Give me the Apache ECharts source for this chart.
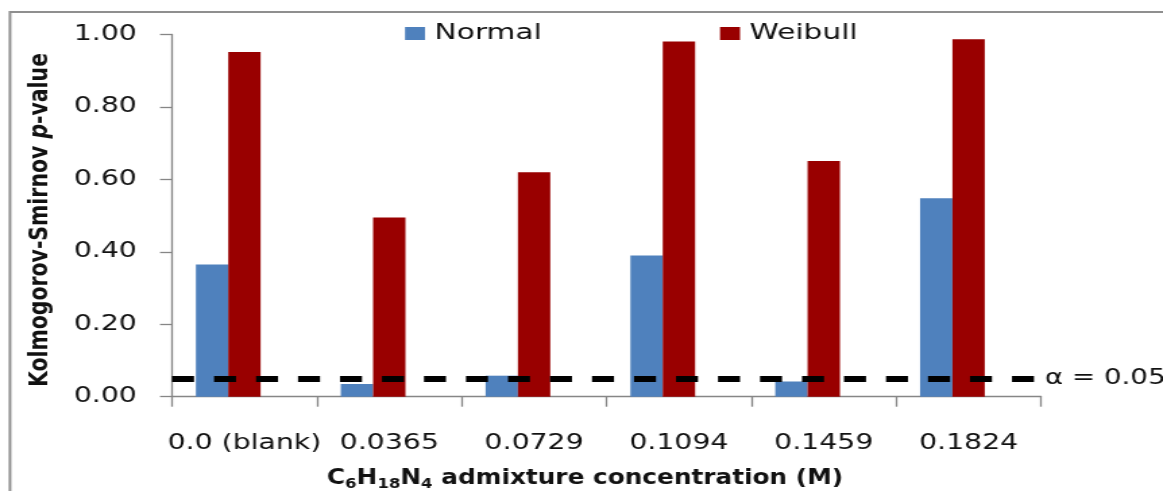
<!DOCTYPE html>
<html><head><meta charset="utf-8">
<script src="https://cdn.jsdelivr.net/npm/echarts@6/dist/echarts.min.js"></script>
<style>
html,body{margin:0;padding:0;background:#fff;overflow:hidden;}
#wrap{width:1163px;height:491px;overflow:hidden;position:relative;background:#fff;}
#chart{width:862px;height:491px;transform:scaleX(1.349188);transform-origin:0 0;}
</style></head><body><div id="wrap"><div id="chart"></div></div>
<script>
// ---- data ----
const categories = ['0.0 (blank)', '0.0365', '0.0729', '0.1094', '0.1459', '0.1824'];
const normalValues = [0.365, 0.035, 0.058, 0.390, 0.042, 0.548];
const weibullValues = [0.952, 0.495, 0.620, 0.981, 0.651, 0.987];
const alphaLevel = 0.05;
const alphaLabel = 'α = 0.05';
const yMin = 0, yMax = 1, yStep = 0.2;
const xTitleParts = [['C', 0], ['6', 1], ['H', 0], ['18', 1], ['N', 0], ['4', 1], [' admixture concentration (M)', 0]];
const yTitleParts = [['Kolmogorov-Smirnov ', 0], ['p', 1], ['-value', 0]];

// ---- layout ----
const S = 1163 / 862;               // horizontal stretch of the picture
const ix = v => v / S;              // picture x -> inner x
const FONT = '"DejaVu Sans", Verdana, sans-serif';
const cv = document.createElement('canvas').getContext('2d');
function w(t, f) { cv.font = f; return cv.measureText(t).width; }

// x axis title (bold with subscripts)
const xMain = 'bold 21px ' + FONT, xSub = 'bold 14px ' + FONT;
let cx = 0; const xKids = [];
xTitleParts.forEach(([t, sub]) => {
  const f = sub ? xSub : xMain;
  xKids.push({ type: 'text', x: cx, y: sub ? 6 : 0,
    style: { text: t, font: f, fill: '#111', align: 'left', verticalAlign: 'middle', textAlign: 'left', textVerticalAlign: 'middle' } });
  cx += w(t, f);
});
const xScale = (ix(843) - ix(327)) / cx;

// y axis title (rotated, italic p)
const yMainF = 'bold 20px ' + FONT, yItF = 'italic bold 20px ' + FONT;
let tot = 0; yTitleParts.forEach(([t, it]) => tot += w(t, it ? yItF : yMainF));
let cy = -tot / 2; const yKids = [];
yTitleParts.forEach(([t, it]) => {
  const f = it ? yItF : yMainF;
  yKids.push({ type: 'text', x: cy, y: 0,
    style: { text: t, font: f, fill: '#111', align: 'left', verticalAlign: 'middle', textAlign: 'left', textVerticalAlign: 'middle' } });
  cy += w(t, f);
});
const yScale = 334 / tot;

const chart = echarts.init(document.getElementById('chart'), null, { renderer: 'canvas' });
const axisGray = '#868686';
chart.setOption({
  animation: false,
  backgroundColor: '#fff',
  grid: { left: ix(172), right: 862 - ix(1041), top: 34.5, bottom: 94.3, containLabel: false },
  legend: [
    { data: ['Normal'], left: ix(405), top: 22.5, padding: 0, icon: 'rect', itemWidth: ix(20), itemHeight: 13,
      textStyle: { fontSize: 22, fontFamily: FONT, color: '#111', padding: [0, 0, 0, 2] } },
    { data: ['Weibull'], left: ix(720), top: 22.5, padding: 0, icon: 'rect', itemWidth: ix(20), itemHeight: 13,
      textStyle: { fontSize: 22, fontFamily: FONT, color: '#111', padding: [0, 0, 0, 2] } }
  ],
  xAxis: {
    type: 'category', data: categories,
    axisLine: { lineStyle: { color: axisGray, width: 1.3 } },
    axisTick: { show: true, length: 10, lineStyle: { color: axisGray, width: 1.3 } },
    axisLabel: { interval: 0, margin: 36, fontSize: 21, fontFamily: FONT, color: '#111' },
    splitLine: { show: false }
  },
  yAxis: {
    type: 'value', min: yMin, max: yMax, interval: yStep,
    axisLine: { show: true, lineStyle: { color: axisGray, width: 1.3 } },
    axisTick: { show: true, length: ix(12), lineStyle: { color: axisGray, width: 1.3 } },
    axisLabel: { margin: 26, fontSize: 21, fontFamily: FONT, color: '#111', formatter: v => v.toFixed(2) },
    splitLine: { show: false }
  },
  series: [
    { name: 'Normal', type: 'bar', data: normalValues, barGap: 0, barCategoryGap: '33%', itemStyle: { color: '#4F81BD' } },
    { name: 'Weibull', type: 'bar', data: weibullValues, barGap: 0, barCategoryGap: '33%', itemStyle: { color: '#990000' } },
    { name: 'alpha', type: 'bar', data: categories.map(() => '-'), barGap: 0, barCategoryGap: '33%', z: 5,
      markLine: {
        silent: true, symbol: 'none', animation: false,
        lineStyle: { color: '#000', type: [ix(22), ix(20)], width: 6 },
        label: { show: true, position: 'end', distance: 3, formatter: alphaLabel, fontSize: 20.5, fontFamily: FONT, color: '#111' },
        data: [{ yAxis: alphaLevel }]
      } }
  ],
  graphic: [
    { type: 'rect', silent: true, shape: { x: ix(10), y: 12, width: 2000, height: 1000 },
      style: { fill: 'none', stroke: '#8f8f8f', lineWidth: 2 } },
    { type: 'group', x: ix(327), y: 478.5, scaleX: xScale, children: xKids },
    { type: 'group', x: ix(40), y: 220, rotation: Math.PI / 2, scaleX: yScale, children: yKids }
  ]
});
</script></body></html>
